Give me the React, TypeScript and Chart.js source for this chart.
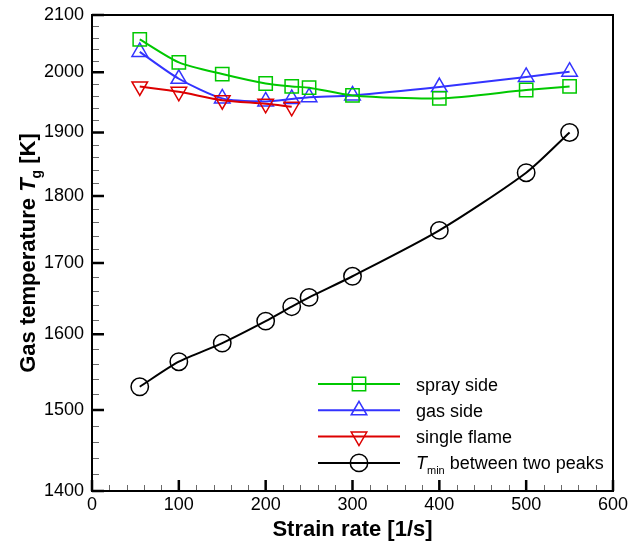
import React, { useEffect, useRef } from 'react';
import { Chart, registerables } from 'chart.js';

Chart.register(...registerables);

// ---- data ----
const strainRate = [55, 100, 150, 200, 230, 250, 300, 400, 500, 550];
const singleFlameRate = [55, 100, 150, 200, 230];
const spraySide = [2057, 2017, 1997, 1981, 1976, 1974, 1961, 1956, 1970, 1976];
const gasSide = [2035, 1989, 1956, 1951, 1955, 1958, 1961, 1975, 1992, 2001];
const singleFlame = [1976, 1967, 1953, 1947, 1942];
const tMin = [1530, 1563, 1588, 1618, 1638, 1651, 1681, 1748, 1836, 1900];

const xTickValues = [0, 100, 200, 300, 400, 500, 600];
const yTickValues = [1400, 1500, 1600, 1700, 1800, 1900, 2000, 2100];

type Part = { t: string; italic?: boolean; sub?: boolean };
const seriesLabels: Part[][] = [
  [{ t: 'spray side' }],
  [{ t: 'gas side' }],
  [{ t: 'single flame' }],
  [{ t: 'T', italic: true }, { t: 'min', sub: true }, { t: ' between two peaks' }],
];
const xTitle: Part[] = [{ t: 'Strain rate [1/s]' }];
const yTitle: Part[] = [{ t: 'Gas temperature ' }, { t: 'T', italic: true }, { t: 'g', sub: true }, { t: ' [K]' }];

const FONT = '"Liberation Sans", Arial, Helvetica, sans-serif';
const GREEN = '#00c800';
const BLUE = '#3333ff';
const RED = '#dd0000';
const BLACK = '#000000';

const seriesStyles = [
  { color: GREEN, pointStyle: 'rect', radius: 9.4, rotation: 0 },
  { color: BLUE, pointStyle: 'triangle', radius: 9, rotation: 0 },
  { color: RED, pointStyle: 'triangle', radius: 9, rotation: 180 },
  { color: BLACK, pointStyle: 'circle', radius: 8.7, rotation: 0 },
];

function fontFor(p: Part, size: number, bold: boolean) {
  const s = p.sub ? Math.round(size * 0.62) : size;
  return `${p.italic ? 'italic ' : ''}${bold ? 'bold ' : ''}${s}px ${FONT}`;
}

function measureRich(ctx: CanvasRenderingContext2D, parts: Part[], size: number, bold: boolean) {
  let w = 0;
  for (const p of parts) {
    ctx.font = fontFor(p, size, bold);
    w += ctx.measureText(p.t).width;
  }
  return w;
}

function drawRich(ctx: CanvasRenderingContext2D, parts: Part[], x: number, y: number, size: number, bold: boolean) {
  let cx = x;
  ctx.textAlign = 'left';
  ctx.textBaseline = 'alphabetic';
  for (const p of parts) {
    ctx.font = fontFor(p, size, bold);
    ctx.fillText(p.t, cx, p.sub ? y + size * 0.28 : y);
    cx += ctx.measureText(p.t).width;
  }
}

function drawMarker(ctx: CanvasRenderingContext2D, style: string, x: number, y: number, r: number, rotationDeg: number) {
  ctx.beginPath();
  if (style === 'rect') {
    const s = Math.SQRT1_2 * r;
    ctx.rect(x - s, y - s, 2 * s, 2 * s);
  } else if (style === 'triangle') {
    let rad = (rotationDeg * Math.PI) / 180;
    ctx.moveTo(x + Math.sin(rad) * r, y - Math.cos(rad) * r);
    rad += (2 * Math.PI) / 3;
    ctx.lineTo(x + Math.sin(rad) * r, y - Math.cos(rad) * r);
    rad += (2 * Math.PI) / 3;
    ctx.lineTo(x + Math.sin(rad) * r, y - Math.cos(rad) * r);
    ctx.closePath();
  } else {
    ctx.arc(x, y, r, 0, Math.PI * 2);
  }
  ctx.stroke();
}

const decorPlugin = {
  id: 'decor',
  afterDatasetsDraw(chart: any) {
    const { ctx, chartArea: a, scales } = chart;
    const xs = scales.x;
    const ys = scales.y;
    ctx.save();
    // minor ticks
    ctx.strokeStyle = '#6a6a6a';
    ctx.lineWidth = 1;
    ctx.beginPath();
    for (let i = 0; i < xTickValues.length - 1; i++) {
      const step = (xTickValues[i + 1] - xTickValues[i]) / 5;
      for (let k = 1; k < 5; k++) {
        const px = Math.round(xs.getPixelForValue(xTickValues[i] + k * step)) + 0.5;
        ctx.moveTo(px, a.bottom);
        ctx.lineTo(px, a.bottom - 6);
      }
    }
    for (let i = 0; i < yTickValues.length - 1; i++) {
      const step = (yTickValues[i + 1] - yTickValues[i]) / 5;
      for (let k = 1; k < 5; k++) {
        const py = Math.round(ys.getPixelForValue(yTickValues[i] + k * step)) + 0.5;
        ctx.moveTo(a.left, py);
        ctx.lineTo(a.left + 7, py);
      }
    }
    ctx.stroke();
    // major ticks
    ctx.strokeStyle = BLACK;
    ctx.lineWidth = 2.5;
    ctx.beginPath();
    for (const v of xTickValues) {
      const px = xs.getPixelForValue(v);
      ctx.moveTo(px, a.bottom);
      ctx.lineTo(px, a.bottom - 11);
    }
    for (const v of yTickValues) {
      const py = ys.getPixelForValue(v);
      ctx.moveTo(a.left, py);
      ctx.lineTo(a.left + 12, py);
    }
    ctx.stroke();
    // frame
    ctx.lineWidth = 2;
    ctx.strokeRect(a.left, a.top, a.right - a.left, a.bottom - a.top);

    // legend
    const rowY0 = 384;
    const rowGap = 26.3;
    const lineX0 = 318;
    const lineX1 = 400;
    const textX = 416;
    seriesLabels.forEach((parts, i) => {
      const st = seriesStyles[i];
      const y = rowY0 + i * rowGap;
      ctx.strokeStyle = st.color;
      ctx.lineWidth = 2;
      ctx.beginPath();
      ctx.moveTo(lineX0, y);
      ctx.lineTo(lineX1, y);
      ctx.stroke();
      ctx.lineWidth = 1.5;
      drawMarker(ctx, st.pointStyle, (lineX0 + lineX1) / 2, y, st.radius, st.rotation);
      ctx.fillStyle = BLACK;
      drawRich(ctx, parts, textX, y + 6.5, 18, false);
    });

    // axis titles
    ctx.fillStyle = BLACK;
    const xw = measureRich(ctx, xTitle, 22, true);
    drawRich(ctx, xTitle, (a.left + a.right) / 2 - xw / 2, 536, 22, true);

    ctx.translate(35, (a.top + a.bottom) / 2);
    ctx.rotate(-Math.PI / 2);
    const yw = measureRich(ctx, yTitle, 22, true);
    drawRich(ctx, yTitle, -yw / 2, 0, 22, true);
    ctx.restore();
  },
};

export default function App() {
  const ref = useRef<HTMLCanvasElement | null>(null);
  useEffect(() => {
    if (!ref.current) return;
    const mk = (xsArr: number[], ysArr: number[]) => xsArr.map((x, i) => ({ x, y: ysArr[i] }));
    const ds = (label: string, data: any, i: number, order: number) => {
      const st = seriesStyles[i];
      return {
        label,
        data,
        borderColor: st.color,
        borderWidth: 2,
        pointStyle: st.pointStyle,
        pointRadius: st.radius,
        pointRotation: st.rotation,
        pointBorderColor: st.color,
        pointBackgroundColor: 'rgba(0,0,0,0)',
        pointBorderWidth: 1.5,
        tension: 0.25,
        fill: false,
        order,
      };
    };
    const chart = new Chart(ref.current, {
      type: 'line',
      data: {
        datasets: [
          ds('spray side', mk(strainRate, spraySide), 0, 2),
          ds('gas side', mk(strainRate, gasSide), 1, 3),
          ds('single flame', mk(singleFlameRate, singleFlame), 2, 1),
          ds('T_min between two peaks', mk(strainRate, tMin), 3, 0),
        ] as any,
      },
      options: {
        animation: false,
        responsive: false,
        devicePixelRatio: 1,
        layout: { padding: { top: 15, right: 15, left: 0, bottom: 0 } },
        plugins: { legend: { display: false }, tooltip: { enabled: false } },
        scales: {
          x: {
            type: 'linear',
            min: 0,
            max: 600,
            afterBuildTicks: (s: any) => {
              s.ticks = xTickValues.map((v) => ({ value: v }));
            },
            afterFit: (s: any) => {
              s.height = 53;
              s.paddingLeft = 0;
              s.paddingRight = 0;
              s.paddingTop = 0;
              s.paddingBottom = 0;
            },
            grid: { display: false, drawTicks: false },
            border: { display: false },
            ticks: {
              color: BLACK,
              font: { family: FONT, size: 18 },
              padding: 3,
              maxRotation: 0,
              autoSkip: false,
              callback: (v: any) => String(v),
            },
          },
          y: {
            type: 'logarithmic',
            min: 1400,
            max: 2100,
            afterBuildTicks: (s: any) => {
              s.ticks = yTickValues.map((v) => ({ value: v }));
            },
            afterFit: (s: any) => {
              s.width = 92;
              s.paddingLeft = 0;
              s.paddingRight = 0;
              s.paddingTop = 0;
              s.paddingBottom = 0;
            },
            grid: { display: false, drawTicks: false },
            border: { display: false },
            ticks: {
              color: BLACK,
              font: { family: FONT, size: 18 },
              padding: 8,
              autoSkip: false,
              callback: (v: any) => String(v),
            },
          },
        },
      } as any,
      plugins: [decorPlugin],
    });
    return () => chart.destroy();
  }, []);
  return (
    <div style={{ position: 'fixed', left: 0, top: 0, width: 628, height: 544, background: '#fff' }}>
      <canvas ref={ref} width={628} height={544} style={{ width: 628, height: 544 }} />
    </div>
  );
}
